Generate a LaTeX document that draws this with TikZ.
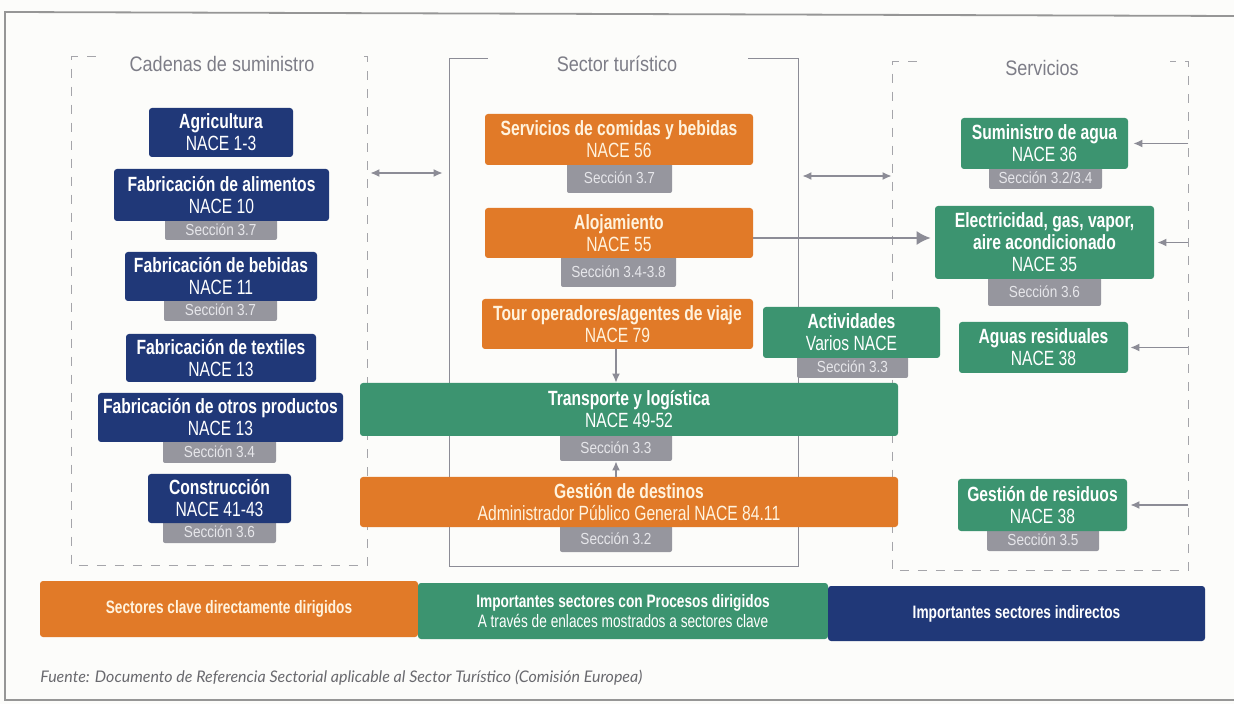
\documentclass[tikz,border=0pt]{standalone}
\usepackage{fontspec}
\setmainfont{Liberation Sans}
\newfontfamily\cond{Liberation Sans}[FakeStretch=0.76]
\newfontfamily\condsec{Liberation Sans}[FakeStretch=0.85]
\newfontfamily\condttl{Liberation Sans}[FakeStretch=0.86]
\newfontfamily\footfont{Lato}
\usetikzlibrary{arrows.meta}
\definecolor{navy}{RGB}{32,56,120}
\definecolor{orng}{RGB}{225,122,40}
\definecolor{grn}{RGB}{60,148,112}
\definecolor{secg}{RGB}{150,150,158}
\definecolor{sect}{RGB}{230,230,234}
\definecolor{cream}{RGB}{255,243,222}
\definecolor{arrg}{RGB}{140,140,150}
\definecolor{ttlg}{RGB}{125,125,135}
\definecolor{dashg}{RGB}{165,165,170}
\definecolor{frameg}{RGB}{150,150,150}
\definecolor{footg}{RGB}{105,105,110}
\definecolor{bgc}{RGB}{252,252,250}
\newcommand\BX[7]{\node[#2, minimum width={(#5-#3)*0.5pt}, minimum height={(#6-#4)*0.5pt}] (#1) at ({(#3+#5)/2},{(#4+#6)/2}) {#7};}
\tikzset{
  box/.style={rounded corners=1.5pt, inner sep=0pt, align=center, text=white,
    font=\cond\fontsize{10.3}{11}\selectfont},
  navybox/.style={box, fill=navy},
  orbox/.style={box, fill=orng, text=cream},
  grbox/.style={box, fill=grn},
  secbox/.style={rounded corners=1pt, inner sep=0pt, fill=secg, text=sect,
    font=\condsec\fontsize{8}{9}\selectfont},
  frame/.style={inner sep=0pt},
  ttl/.style={text=ttlg, inner sep=0pt, font=\condttl\fontsize{10.5}{11}\selectfont},
  dashline/.style={draw=dashg, line width=0.6pt, dash pattern=on 4.5pt off 4.5pt},
  solidline/.style={draw=arrg, line width=0.7pt},
  arr/.style={draw=arrg, line width=0.7pt, -{Latex[length=4.5pt,width=4pt]}},
  darr/.style={draw=arrg, line width=0.7pt, {Latex[length=4.5pt,width=4pt]}-{Latex[length=4.5pt,width=4pt]}},
  bigarr/.style={draw=arrg, line width=0.8pt, -{Latex[length=7pt,width=7pt]}},
  legbox/.style={inner sep=0pt, align=center, font=\cond\fontsize{9}{10}\selectfont},
}
\begin{document}
\begin{tikzpicture}[x=0.5pt,y=-0.5pt]
\useasboundingbox[fill=bgc] (0,0) rectangle (1234,704);
% outer frame
\draw[frameg, line width=0.9pt] (1234,16) -- (5,12) -- (5,700) -- (1234,700);

% containers
\BX{supply}{frame}{72}{57}{367}{565}{}
\BX{tourism}{frame}{450}{59}{798}{566}{}
\BX{servs}{frame}{893}{62}{1188}{570}{}
\draw[dashline] ([xshift=12pt]supply.north west) -- (supply.north west) -- (supply.south west) -- (supply.south east) -- (supply.north east) -- ([xshift=-3pt]supply.north east);
\draw[solidline] ([xshift=19pt]tourism.north west) -- (tourism.north west) -- (tourism.south west) -- (tourism.south east) -- (tourism.north east) -- ([xshift=-25pt]tourism.north east);
\draw[dashline] ([xshift=12pt]servs.north west) -- (servs.north west) -- (servs.south west) -- (servs.south east) -- (servs.north east) -- ([xshift=-9pt]servs.north east);
\node[ttl] (t1) at (222,64) {Cadenas de suministro};
\node[ttl] (t2) at (617,64) {Sector turístico};
\node[ttl] (t3) at (1042,68) {Servicios};

% section tags
\BX{s1}{secbox}{165}{219}{277}{240}{Sección 3.7}
\BX{s2}{secbox}{164}{299}{277}{321}{Sección 3.7}
\BX{s3}{secbox}{163}{440}{276}{463}{Sección 3.4}
\BX{s4}{secbox}{163}{521}{276}{543}{Sección 3.6}
\BX{s5}{secbox}{567}{163}{672}{193}{Sección 3.7}
\BX{s6}{secbox}{561}{256}{676}{287}{Sección 3.4-3.8}
\BX{s7}{secbox}{560}{434}{672}{461}{Sección 3.3}
\BX{s8}{secbox}{560}{525}{672}{552}{Sección 3.2}
\BX{s9}{secbox}{797}{356}{908}{378}{Sección 3.3}
\BX{s10}{secbox}{989}{167}{1102}{189}{Sección 3.2/3.4}
\BX{s11}{secbox}{988}{277}{1101}{306}{Sección 3.6}
\BX{s12}{secbox}{987}{529}{1099}{551}{Sección 3.5}

% supply chain boxes
\BX{agri}{navybox}{149}{108}{293}{157}{{\bfseries Agricultura}\\NACE 1-3}
\BX{alim}{navybox}{114}{169}{329}{221}{{\bfseries Fabricación de alimentos}\\NACE 10}
\BX{bebi}{navybox}{125}{252}{317}{301}{{\bfseries Fabricación de bebidas}\\NACE 11}
\BX{text}{navybox}{126}{334}{316}{382}{{\bfseries Fabricación de textiles}\\NACE 13}
\BX{otros}{navybox}{98}{393}{343}{442}{{\bfseries Fabricación de otros productos}\\NACE 13}
\BX{cons}{navybox}{148}{474}{291}{523}{{\bfseries Construcción}\\NACE 41-43}

% tourism sector boxes
\BX{serv}{orbox}{485}{114}{753}{165}{{\bfseries Servicios de comidas y bebidas}\\NACE 56}
\BX{aloj}{orbox}{485}{208}{753}{258}{{\bfseries Alojamiento}\\NACE 55}
\BX{tour}{orbox}{482}{299}{753}{349}{{\bfseries Tour operadores/agentes de viaje}\\NACE 79}
\BX{transp}{grbox}{360}{383}{898}{436}{{\bfseries Transporte y logística}\\NACE 49-52}
\BX{gdest}{orbox}{360}{477}{898}{527}{{\bfseries Gestión de destinos}\\Administrador Público General NACE 84.11}
\BX{activ}{grbox}{763}{307}{940}{358}{{\bfseries Actividades}\\Varios NACE}

% services boxes
\BX{agua}{grbox}{961}{118}{1128}{169}{{\bfseries Suministro de agua}\\NACE 36}
\BX{elec}{grbox}{935}{206}{1154}{279}{{\bfseries Electricidad, gas, vapor,}\\{\bfseries aire acondicionado}\\NACE 35}
\BX{aguasr}{grbox}{959}{322}{1128}{373}{{\bfseries Aguas residuales}\\NACE 38}
\BX{resid}{grbox}{958}{479}{1127}{531}{{\bfseries Gestión de residuos}\\NACE 38}

% connectors
\coordinate (la) at (0,173);
\coordinate (ra) at (0,176);
\coordinate (ya) at (0,238);
\draw[darr, shorten <=1.5pt, shorten >=3.5pt] (supply.east |- la) -- (tourism.west |- la);
\draw[darr, shorten <=2pt, shorten >=0.5pt] (tourism.east |- ra) -- (servs.west |- ra);
\draw[bigarr, shorten >=2pt] (aloj.east |- ya) -- (elec.west |- ya);
\draw[arr] (tour.south -| s7.north) -- (transp.north -| s7.north);
\draw[arr] (s7.south |- gdest.north) -- (s7.south);
\draw[arr, shorten >=2.5pt] (servs.east |- agua.east) -- (agua.east);
\draw[arr, shorten >=1.5pt] (servs.east |- elec.east) -- (elec.east);
\draw[arr, shorten >=1pt] (servs.east |- aguasr.east) -- (aguasr.east);
\draw[arr, shorten >=1.5pt] (servs.east |- resid.east) -- (resid.east);

% legend
\BX{lg1}{orbox,legbox}{40}{581}{418}{637}{{\bfseries Sectores clave directamente dirigidos}}
\BX{lg2}{grbox,legbox}{418}{583}{828}{639}{{\bfseries Importantes sectores con Procesos dirigidos}\\A través de enlaces mostrados a sectores clave}
\BX{lg3}{navybox,legbox}{828}{586}{1205}{641}{{\bfseries Importantes sectores indirectos}}

% source
\node[anchor=west, inner sep=0pt, text=footg, font=\footfont\itshape\fontsize{8}{9}\selectfont] (src) at (40,678) {Fuente: Documento de Referencia Sectorial aplicable al Sector Turístico (Comisión Europea)};
\end{tikzpicture}
\end{document}
